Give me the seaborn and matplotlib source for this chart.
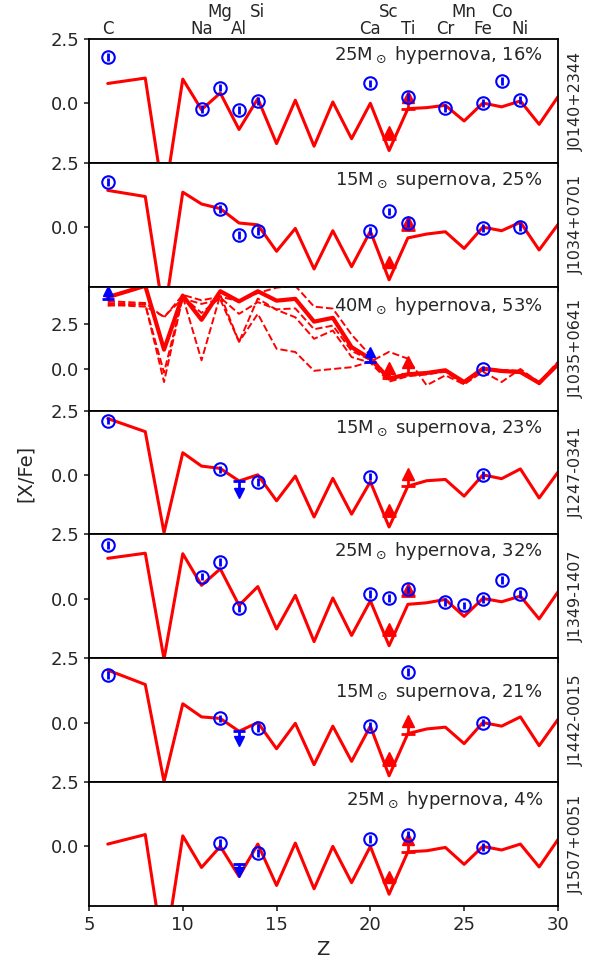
import matplotlib
matplotlib.use("Agg")
import matplotlib.pyplot as plt
import matplotlib.transforms as mtransforms
import seaborn as sns

sns.set_style("ticks")
plt.rcParams['font.family'] = ['DejaVu Sans']
plt.rcParams['mathtext.fontset'] = 'dejavusans'

# ---- data ----
z_model = [6, 8, 9, 10, 11, 12, 13, 14, 15, 16, 17, 18, 19, 20, 21, 22,
           23, 24, 25, 26, 27, 28, 29, 30]

stars = ["J0140+2344", "J1034+0701", "J1035+0641", "J1247-0341",
         "J1349-1407", "J1442-0015", "J1507+0051"]
best_fit = [r"25M$_\odot$ hypernova, 16%", r"15M$_\odot$ supernova, 25%",
            r"40M$_\odot$ hypernova, 53%", r"15M$_\odot$ supernova, 23%",
            r"25M$_\odot$ hypernova, 32%", r"15M$_\odot$ supernova, 21%",
            r"25M$_\odot$ hypernova, 4%"]

elements = ["C", "Na", "Mg", "Al", "Si", "Ca", "Sc", "Ti", "Cr", "Mn", "Fe", "Co", "Ni"]
element_z = [6, 11, 12, 13, 14, 20, 21, 22, 24, 25, 26, 27, 28]
element_row = [0, 0, 1, 0, 1, 0, 1, 0, 0, 1, 0, 1, 0]

# best-fit model yields [X/Fe]
model_j0140 = [0.77, 0.98, -3.8, 0.94, -0.25, 0.4, -1.02, 0.18, -1.57, 0.12, -1.67, 0.05,
               -1.38, 0.0, -1.84, -0.21, -0.17, -0.08, -0.69, 0.01, -0.14, 0.09, -0.82, 0.25]
model_j1034 = [1.43, 1.19, -3.5, 1.36, 0.9, 0.72, 0.16, 0.09, -0.94, -0.05, -1.63, -0.14,
               -1.54, -0.16, -2.05, -0.42, -0.27, -0.18, -0.83, 0.0, -0.14, 0.19, -0.89, 0.1]
model_j1035 = [3.97, 4.6, 1.07, 4.06, 2.72, 4.3, 3.74, 4.3, 3.78, 3.88, 2.62, 2.83,
               1.21, 0.57, -0.53, -0.29, -0.22, -0.07, -0.72, 0.02, -0.11, -0.17, -0.77, 0.26]
model_j1247 = [2.19, 1.68, -2.25, 0.86, 0.34, 0.25, -0.24, 0.0, -1.01, -0.05, -1.64, -0.14,
               -1.53, -0.27, -2.03, -0.44, -0.23, -0.18, -0.83, 0.0, -0.15, 0.23, -0.9, 0.1]
model_j1349 = [1.57, 1.77, -2.35, 1.75, 0.52, 1.16, -0.26, 0.47, -1.18, 0.13, -1.67, 0.03,
               -1.43, -0.08, -1.83, -0.22, -0.16, -0.03, -0.69, 0.01, -0.12, 0.1, -0.79, 0.26]
model_j1442 = [2.04, 1.48, -2.3, 0.73, 0.22, 0.16, -0.34, 0.0, -1.02, -0.03, -1.64, -0.14,
               -1.51, -0.14, -2.07, -0.43, -0.25, -0.18, -0.82, 0.0, -0.14, 0.22, -0.9, 0.12]
model_j1507 = [0.09, 0.46, -4.3, 0.41, -0.82, 0.0, -1.17, 0.09, -1.52, 0.13, -1.65, 0.0,
               -1.41, 0.0, -1.86, -0.21, -0.17, -0.04, -0.7, 0.0, -0.14, 0.09, -0.8, 0.26]

# other acceptable models for J1035+0641 (dashed)
alt_j1035_a = [3.75, 3.65, 2.85, 4.1, 3.8, 4.0, 3.75, 4.2, 4.5, 4.6, 3.45, 3.34,
               1.9, 0.75, -0.55, -0.3, -0.2, -0.1, -0.75, 0.05, -0.1, -0.15, -0.8, 0.3]
alt_j1035_b = [3.5, 3.6, -0.72, 4.0, 0.48, 4.1, 1.5, 3.9, 3.27, 2.86, 1.67, 2.13,
               0.66, 0.35, -0.7, -0.4, -0.3, -0.15, -0.85, 0.0, -0.15, -0.2, -0.8, 0.2]
alt_j1035_c = [3.65, 3.55, -0.2, 4.0, 3.1, 3.95, 3.05, 3.7, 3.3, 3.35, 2.2, 2.4,
               1.0, 0.5, -0.45, -0.35, -0.25, -0.05, -0.75, 0.0, -0.05, -0.1, -0.85, 0.3]
alt_j1035_d = [3.55, 3.45, 2.9, 3.9, 3.6, 3.85, 1.5, 3.05, 1.12, 0.94, -0.1, 0.0,
               0.1, 0.4, 0.95, 0.57, -0.9, -0.35, -0.85, -0.15, -0.72, 0.0, -0.75, 0.4]

# observed abundances (detections)
obs_z_j0140 = [6, 11, 12, 13, 14, 20, 22, 24, 26, 27, 28]
obs_j0140 = [1.81, -0.23, 0.61, -0.27, 0.1, 0.77, 0.25, -0.18, 0.0, 0.87, 0.14]
obs_z_j1034 = [6, 12, 13, 14, 20, 21, 22, 26, 28]
obs_j1034 = [1.75, 0.7, -0.3, -0.14, -0.16, 0.61, 0.15, -0.03, 0.0]
obs_z_j1035 = [26]
obs_j1035 = [0.02]
obs_z_j1247 = [6, 12, 14, 20, 26]
obs_j1247 = [2.11, 0.21, -0.27, -0.07, 0.0]
obs_z_j1349 = [6, 11, 12, 13, 20, 21, 22, 24, 25, 26, 27, 28]
obs_j1349 = [2.09, 0.86, 1.43, -0.38, 0.17, 0.04, 0.36, -0.12, -0.26, 0.0, 0.72, 0.17]
obs_z_j1442 = [6, 12, 14, 20, 22, 26]
obs_j1442 = [1.85, 0.16, -0.2, -0.14, 1.97, 0.0]
obs_z_j1507 = [12, 14, 20, 22, 26]
obs_j1507 = [0.13, -0.27, 0.29, 0.46, -0.01]
obs_err = 0.15

# observed limits: (Z, value, arrow end); arrow end below value = upper limit
obs_lim_j1035 = [(6, 3.88, 4.3), (20, 0.39, 0.94)]
obs_lim_j1247 = [(13, -0.24, -0.7)]
obs_lim_j1442 = [(13, -0.34, -0.72)]
obs_lim_j1507 = [(13, -0.67, -0.98)]

# model lower limits for Sc, Ti: (Z, base, arrow end)
mod_lim_j0140 = [(21, -1.4, -1.12), (22, -0.21, 0.25)]
mod_lim_j1034 = [(21, -1.57, -1.35), (22, -0.11, 0.18)]
mod_lim_j1035 = [(21, -0.5, 0.08), (22, -0.25, 0.39)]
mod_lim_j1247 = [(21, -1.62, -1.35), (22, -0.44, 0.03)]
mod_lim_j1349 = [(21, -1.4, -1.19), (22, 0.1, 0.39)]
mod_lim_j1442 = [(21, -1.65, -1.39), (22, -0.43, 0.05)]
mod_lim_j1507 = [(21, -1.35, -1.21), (22, -0.21, 0.29)]

panels = [
    (model_j0140, [], obs_z_j0140, obs_j0140, [], mod_lim_j0140),
    (model_j1034, [], obs_z_j1034, obs_j1034, [], mod_lim_j1034),
    (model_j1035, [alt_j1035_a, alt_j1035_b, alt_j1035_c, alt_j1035_d],
     obs_z_j1035, obs_j1035, obs_lim_j1035, mod_lim_j1035),
    (model_j1247, [], obs_z_j1247, obs_j1247, obs_lim_j1247, mod_lim_j1247),
    (model_j1349, [], obs_z_j1349, obs_j1349, [], mod_lim_j1349),
    (model_j1442, [], obs_z_j1442, obs_j1442, obs_lim_j1442, mod_lim_j1442),
    (model_j1507, [], obs_z_j1507, obs_j1507, obs_lim_j1507, mod_lim_j1507),
]

# ---- layout ----
text_y = [0.87, 0.86, 0.847, 0.855, 0.865, 0.72, 0.857]


def draw_limit(ax, z, base, tip, color, ms):
    marker = '^' if tip > base else 'v'
    ax.plot([z, z], [base, tip], color=color, lw=2, zorder=4)
    ax.plot([z], [tip], marker=marker, color=color, ms=ms, ls='none', zorder=4)
    ax.plot([z], [base], marker='_', color=color, ms=ms + 2, mew=2, ls='none', zorder=4)


fig, axes = plt.subplots(7, 1, sharex=True, figsize=(5.91, 9.66), dpi=100)
fig.subplots_adjust(left=0.1506, right=0.944, top=0.9596, bottom=0.0621, hspace=0)

for i, (ax, (model, alts, oz, oy, olim, mlim)) in enumerate(zip(axes, panels)):
    for alt in alts:
        sns.lineplot(x=z_model, y=alt, ax=ax, color='red', lw=1.4,
                     linestyle='--', sort=False, estimator=None)
    sns.lineplot(x=z_model, y=model, ax=ax, color='red',
                 lw=3 if alts else 2.2, sort=False, estimator=None)
    for z, base, tip in mlim:
        draw_limit(ax, z, base, tip, 'red', 8)
    ax.errorbar(oz, oy, yerr=obs_err, fmt='o', mfc='none', mec='blue',
                ecolor='blue', ms=9, mew=1.5, elinewidth=2, capsize=0, zorder=5)
    for z, base, tip in olim:
        draw_limit(ax, z, base, tip, 'blue', 7)

    ax.set_yticks([-2.5, 0.0, 2.5])
    ax.set_xlim(5, 30)
    if alts:
        ax.set_ylim(-2.3, 4.55)
    else:
        ax.set_ylim(-2.32, 2.5)
    ax.tick_params(labelsize=13, width=1.2)
    for sp in ax.spines.values():
        sp.set_linewidth(1.3)
        sp.set_color('black')

    ax.text(0.968, text_y[i], best_fit[i], transform=ax.transAxes,
            ha='right', va='center', fontsize=13)
    ax.text(1.04, 0.5, stars[i], transform=ax.transAxes, rotation=90,
            ha='center', va='center', fontsize=11.5)

axes[-1].set_xticks([5, 10, 15, 20, 25, 30])
axes[-1].set_xlim(5, 30)

trans = mtransforms.blended_transform_factory(axes[0].transData, axes[0].transAxes)
for name, z, row in zip(elements, element_z, element_row):
    axes[0].text(z, 1.04 + 0.14 * row, name, transform=trans, ha='center',
                 va='baseline', fontsize=12)

fig.text(0.0435, 0.51, '[X/Fe]', rotation=90, ha='center', va='center', fontsize=14)
fig.text(0.547, 0.0166, 'Z', ha='center', va='center', fontsize=14)

fig.savefig('out.png', dpi=100)
